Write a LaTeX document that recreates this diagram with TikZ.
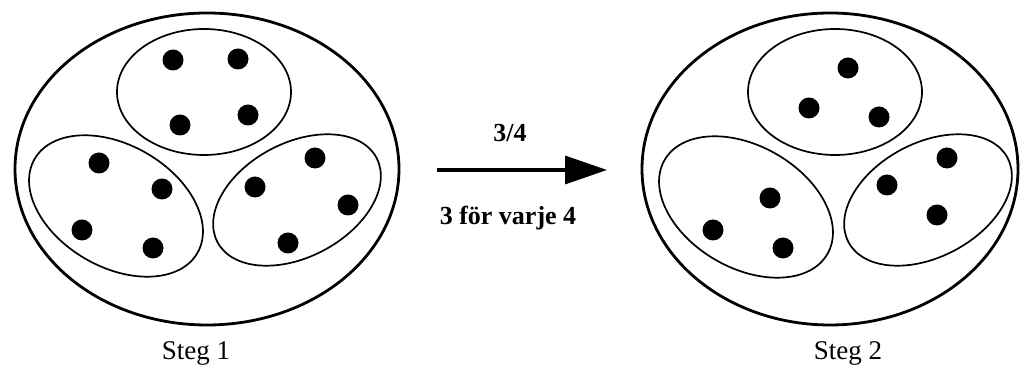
\documentclass[tikz,border=0pt]{standalone}
\usepackage{fontspec}
\setmainfont{Liberation Serif}
\usetikzlibrary{shapes.geometric,arrows.meta}
\tikzset{
  outer/.style={draw, ellipse, line width=2.8pt, inner sep=0pt},
  group/.style={draw, ellipse, line width=1.7pt, inner sep=0pt},
  dot/.style={circle, fill=black, inner sep=0pt, minimum size=21pt},
  steglabel/.style={font=\fontsize{27}{30}\selectfont, anchor=base, inner sep=0pt},
  arrlabel/.style={font=\bfseries\fontsize{26}{28}\selectfont, anchor=base, inner sep=0pt}
}
\begin{document}
\begin{tikzpicture}[x=1pt,y=1pt]
\useasboundingbox (0,0) rectangle (1021,366);
% ---------- Steg 1 ----------
\node[outer, minimum width=384pt, minimum height=312pt] (o1) at (207,197) {};
\node[group, minimum width=174pt, minimum height=126pt] (t1) at (204,274) {};
\node[group, minimum width=188pt, minimum height=122pt, rotate=-30] (l1) at (116,160) {};
\node[group, minimum width=180pt, minimum height=114pt, rotate=28] (r1) at (297,166) {};
\node[dot] (a1) at (173,306) {};
\node[dot] (a2) at (238,307) {};
\node[dot] (a3) at (180,241) {};
\node[dot] (a4) at (248,251) {};
\node[dot] (b1) at (99,203) {};
\node[dot] (b2) at (162,177) {};
\node[dot] (b3) at (82,136) {};
\node[dot] (b4) at (153,118) {};
\node[dot] (c1) at (315,208) {};
\node[dot] (c2) at (255,179) {};
\node[dot] (c3) at (348,161) {};
\node[dot] (c4) at (288,123) {};
\node[steglabel] (s1) at (196,6) {Steg 1};
% ---------- Steg 2 ----------
\node[outer, minimum width=376pt, minimum height=312pt] (o2) at (830,197) {};
\node[group, minimum width=174pt, minimum height=126pt] (t2) at (835,274) {};
\node[group, minimum width=188pt, minimum height=122pt, rotate=-30] (l2) at (746,159) {};
\node[group, minimum width=180pt, minimum height=114pt, rotate=28] (r2) at (928,166) {};
\node[dot] (d1) at (848,298) {};
\node[dot] (d2) at (809,258) {};
\node[dot] (d3) at (879,249) {};
\node[dot] (e1) at (770,168) {};
\node[dot] (e2) at (713,136) {};
\node[dot] (e3) at (783,118) {};
\node[dot] (f1) at (947,208) {};
\node[dot] (f2) at (887,181) {};
\node[dot] (f3) at (937,151) {};
\node[steglabel] (s2) at (848,6) {Steg 2};
% ---------- arrow ----------
\coordinate (p0) at (437,196);
\coordinate (p1) at (607,196);
\draw[line width=3.5pt, -{Triangle[length=42pt,width=28pt]}] (p0) -- (p1);
\node[arrlabel] (frac) at (510,224) {3/4};
\node[arrlabel] (txt) at (508,141) {3 för varje 4};
\end{tikzpicture}
\end{document}
